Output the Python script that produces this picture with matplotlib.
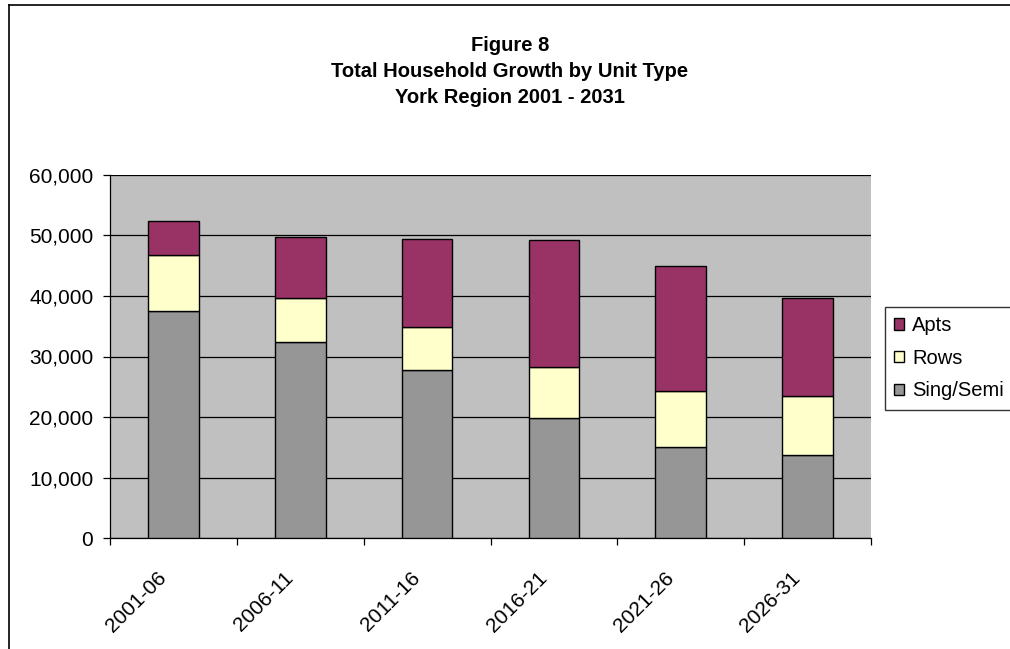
import matplotlib
matplotlib.use("Agg")
import matplotlib.pyplot as plt
from matplotlib.lines import Line2D
import numpy as np

plt.rcParams['font.family'] = ['Liberation Sans', 'DejaVu Sans']

categories = ["2001-06", "2006-11", "2011-16", "2016-21", "2021-26", "2026-31"]
sing_semi = [37500, 32400, 27800, 19900, 15000, 13800]
rows = [9200, 7200, 7000, 8400, 9300, 9700]
apts = [5700, 10200, 14700, 21000, 20700, 16100]
series_names = ["Sing/Semi", "Rows", "Apts"]
series_colors = ["#969696", "#FFFFCC", "#993366"]
yticks = [0, 10000, 20000, 30000, 40000, 50000, 60000]
title_lines = ["Figure 8", "Total Household Growth by Unit Type", "York Region 2001 - 2031"]

W, H = 1010, 649
fig = plt.figure(figsize=(W / 100, H / 100), dpi=100)
fig.patch.set_facecolor("white")

# outer chart border (left and top edges visible; right/bottom are cut off)
fig.add_artist(Line2D([8.5 / W, 8.5 / W], [0, 1 - 5 / H], transform=fig.transFigure,
                      color="black", linewidth=1.2))
fig.add_artist(Line2D([8.5 / W, 1], [1 - 5 / H, 1 - 5 / H], transform=fig.transFigure,
                      color="black", linewidth=1.2))

L, R, T, B = 110, 871, 175, 538
ax = fig.add_axes([L / W, 1 - B / H, (R - L) / W, (B - T) / H])
ax.set_facecolor("#C0C0C0")

x = np.arange(len(categories))
bottom = np.zeros(len(categories))
handles = []
for name, vals, col in zip(series_names, [sing_semi, rows, apts], series_colors):
    h = ax.bar(x, vals, width=0.4, bottom=bottom, color=col, edgecolor="black",
               linewidth=1.0, label=name, zorder=3)
    handles.append(h)
    bottom += np.array(vals)

ax.set_xlim(-0.5, len(categories) - 0.5)
ax.set_ylim(0, 60000)
ax.set_yticks(yticks)
ax.set_yticklabels([f"{v:,}" for v in yticks], fontsize=15)
ax.yaxis.grid(True, color="black", linewidth=0.9, zorder=1)
ax.set_axisbelow(True)
ax.tick_params(axis="y", direction="out", length=5, width=0.9, pad=7, colors="black")

ax.set_xticks(x)
ax.set_xticklabels([])
ax.tick_params(axis="x", which="major", length=0)
ax.set_xticks(np.arange(-0.5, len(categories)), minor=True)
ax.tick_params(axis="x", which="minor", direction="out", length=5, width=0.9, color="black")

for sp in ["top", "right"]:
    ax.spines[sp].set_visible(False)
for sp in ["left", "bottom"]:
    ax.spines[sp].set_color("black")
    ax.spines[sp].set_linewidth(0.9)

for i, lab in enumerate(categories):
    ax.annotate(lab, xy=(i, 0), xycoords=("data", "axes fraction"),
                xytext=(-10, -37), textcoords="offset pixels",
                rotation=45, ha="right", va="center", rotation_mode="anchor",
                fontsize=15, color="black", annotation_clip=False)

baselines = [51, 77, 103]
for line, yb in zip(title_lines, baselines):
    fig.text(510 / W, 1 - yb / H, line, ha="center", va="baseline",
             fontsize=14.5, fontweight="bold", color="black")

leg = fig.legend(handles[::-1], [s for s in series_names[::-1]],
                 loc="upper left", bbox_to_anchor=(885 / W, 1 - 307 / H),
                 fontsize=14.5, frameon=True, fancybox=False, edgecolor="black",
                 handlelength=0.5, handleheight=0.5, handletextpad=0.4,
                 labelspacing=0.68, borderpad=0.45, borderaxespad=0)
leg.get_frame().set_linewidth(1.0)

fig.savefig("out.png", dpi=100, facecolor="white")
